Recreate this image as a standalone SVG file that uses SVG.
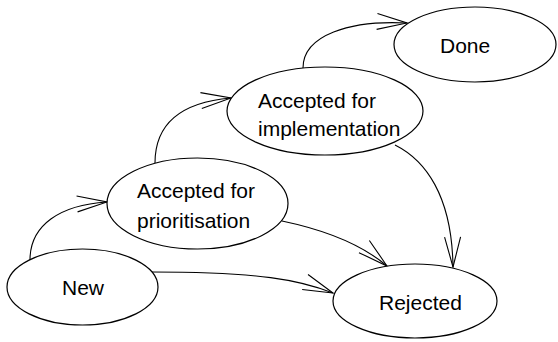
<svg xmlns="http://www.w3.org/2000/svg" width="558" height="342" viewBox="0 0 558 342">
<style>
.node ellipse{fill:#fff;stroke:#000;stroke-width:1.2}
.node text{font-family:"Liberation Sans",Arial,sans-serif;font-size:21px;fill:#000}
#edges path{fill:none;stroke:#000;stroke-width:1.1;marker-end:url(#arrow)}
</style>
<defs>
<marker id="arrow" markerUnits="userSpaceOnUse" markerWidth="40" markerHeight="24" refX="0" refY="0" viewBox="-34 -12 40 24" orient="auto" overflow="visible">
<path d="M -30 -8 L 0 0 L -30 8" fill="none" stroke="#000" stroke-width="1.1"/>
</marker>
</defs>
<rect width="558" height="342" fill="#fff"/>
<g id="edges">
<path d="M 30 260 C 30 225, 60 205, 107 202"/>
<path d="M 155 163 C 155 120, 185 102, 231 98"/>
<path d="M 303 68 C 303 35, 350 20, 407 23"/>
<path d="M 395 145 C 425 160, 452 195, 453 267"/>
<path d="M 282 221 C 325 230, 360 243, 387 266"/>
<path d="M 152 272 C 260 272, 300 280, 333 293"/>
</g>
<g id="done" class="node">
<ellipse cx="475" cy="44.5" rx="81" ry="37.5"/>
<text x="440" y="53">Done</text>
</g>
<g id="impl" class="node">
<ellipse cx="325" cy="111" rx="98" ry="44"/>
<text x="258" y="108">Accepted for</text>
<text x="258" y="136">implementation</text>
</g>
<g id="prio" class="node">
<ellipse cx="197.5" cy="203.5" rx="90.5" ry="45.5"/>
<text x="137" y="198">Accepted for</text>
<text x="137" y="228">prioritisation</text>
</g>
<g id="new" class="node">
<ellipse cx="82.5" cy="287" rx="75.5" ry="38"/>
<text x="62" y="295">New</text>
</g>
<g id="rejected" class="node">
<ellipse cx="415" cy="301" rx="82" ry="37"/>
<text x="379" y="310">Rejected</text>
</g>
</svg>
